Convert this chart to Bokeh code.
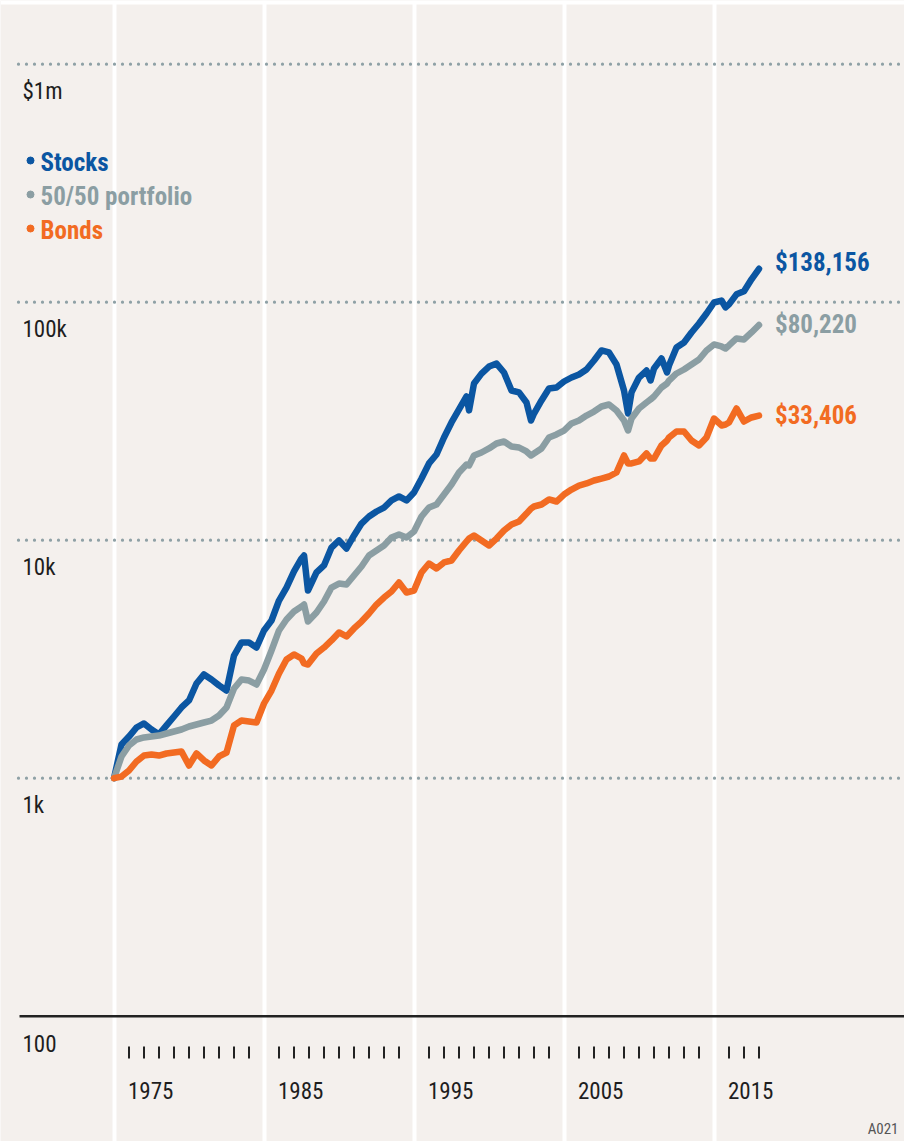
from bokeh.plotting import figure
from bokeh.models import Range1d, Grid, FixedTicker, LinearScale
from bokeh.embed import file_html
from bokeh.resources import INLINE
from bokeh.core.properties import value

# ---------------- data ----------------
years = [1975.0, 1975.5, 1976.0, 1976.5, 1977.0, 1977.5, 1978.0, 1978.5, 1979.0, 1979.5,
         1980.0, 1980.5, 1981.0, 1981.5, 1982.0, 1982.5, 1983.0, 1983.5, 1984.0, 1984.5,
         1985.0, 1985.5, 1986.0, 1986.5, 1987.0, 1987.5, 1987.67, 1987.93, 1988.5, 1989.0,
         1989.5, 1990.0, 1990.5, 1991.0, 1991.5, 1992.0, 1992.5, 1993.0, 1993.5, 1994.0,
         1994.5, 1995.0, 1995.5, 1996.0, 1996.5, 1997.0, 1997.5, 1998.0, 1998.5, 1998.67,
         1999.0, 1999.5, 2000.0, 2000.5, 2001.0, 2001.5, 2002.0, 2002.5, 2002.8, 2003.0,
         2003.5, 2004.0, 2004.5, 2005.0, 2005.5, 2006.0, 2006.5, 2007.0, 2007.5, 2008.0,
         2008.5, 2009.0, 2009.27, 2009.5, 2010.0, 2010.5, 2010.77, 2011.0, 2011.5, 2011.87,
         2012.0, 2012.5, 2013.0, 2013.5, 2014.0, 2014.5, 2015.0, 2015.5, 2015.77, 2016.0,
         2016.5, 2017.0, 2017.5, 2018.0]

stocks = [1000, 1385, 1496, 1633, 1698, 1603, 1527, 1666, 1817, 1982,
          2121, 2500, 2729, 2600, 2454, 2336, 3277, 3717, 3717, 3541,
          4175, 4599, 5580, 6327, 7389, 8378, 8626, 6146, 7318, 7834,
          9318, 9972, 9228, 10470, 11750, 12577, 13200, 13720, 14686, 15265,
          14686, 15868, 18160, 21010, 22910, 27020, 31230, 35420, 40180, 35100,
          45540, 50120, 53660, 55200, 50660, 42560, 41780, 37900, 31840, 34050,
          38640, 43390, 43810, 46430, 48260, 49690, 52150, 56890, 62680, 61480,
          54720, 42560, 34050, 41780, 48260, 51640, 46880, 52650, 57990, 50660,
          54200, 64520, 67710, 74610, 81390, 89660, 99700, 101640, 95070, 97950,
          107900, 111120, 124840, 138156]

balanced = [1000, 1234, 1372, 1454, 1483, 1497, 1511, 1541, 1571, 1602,
            1649, 1681, 1714, 1747, 1834, 1982, 2382, 2598, 2573, 2476,
            2861, 3440, 4175, 4643, 5017, 5265, 5368, 4554, 4968, 5526,
            6327, 6577, 6514, 7107, 7754, 8626, 9051, 9500, 10264, 10566,
            10264, 10877, 12577, 13720, 14125, 15560, 17140, 19250, 20800, 20600,
            22700, 23360, 24290, 25490, 25980, 24760, 24520, 23590, 22700, 23140,
            24290, 27010, 27810, 28900, 30930, 31840, 33410, 34730, 36460, 37170,
            35080, 31840, 28900, 32460, 35760, 37900, 39020, 40170, 43810, 45540,
            46880, 50170, 52150, 54720, 57430, 62680, 66430, 65160, 63910, 65790,
            70390, 69710, 74610, 80220]

bonds = [1000, 1016, 1077, 1175, 1245, 1258, 1245, 1270, 1282, 1295,
         1131, 1270, 1187, 1131, 1234, 1282, 1665, 1747, 1730, 1714,
         2060, 2336, 2754, 3153, 3310, 3184, 3034, 3004, 3342, 3541,
         3790, 4095, 3940, 4256, 4554, 4920, 5368, 5743, 6086, 6643,
         6029, 6146, 7318, 7980, 7603, 8061, 8218, 9051, 9874, 10164,
         10464, 9970, 9500, 10164, 10982, 11641, 11983, 12940, 13580, 13855,
         14125, 14830, 14540, 15560, 16330, 16970, 17310, 17815, 18160, 18520,
         19250, 22700, 21010, 21010, 21420, 23140, 22040, 22040, 25000, 26240,
         27010, 28620, 28620, 26240, 25000, 27010, 32460, 30340, 30630, 31230,
         35760, 31530, 32780, 33406]

series_names = ["Stocks", "50/50 portfolio", "Bonds"]
end_labels = ["$138,156", "$80,220", "$33,406"]
y_tick_values = [1e6, 1e5, 1e4, 1e3]
y_tick_labels = ["$1m", "100k", "10k", "1k"]
base_value = 100
base_label = "100"
decade_labels = ["1975", "1985", "1995", "2005", "2015"]
decade_lines = [1975, 1985, 1995, 2005, 2015]
year_ticks = [y for y in range(1976, 2019) if y % 10 != 5]
footnote = "A021"

# ---------------- styles / layout ----------------
BG = "#f4f0ed"
COLORS = ["#0b56a2", "#8b9ea3", "#f26b22"]
TXT = "#1e1e1e"
FONT = "'Liberation Sans Narrow', 'Roboto Condensed', Roboto, sans-serif"

W, H = 904, 1141
PX_YEAR = 15.0
X1975 = 113.5            # px of the 1975 line
DEC = 238.0              # px per decade on the log axis
Y1K = 777.7              # px from top of the 1k line
XMIN = 1975 - X1975 / PX_YEAR
XMAX = XMIN + W / PX_YEAR
YMAX = 10 ** (3 + Y1K / DEC)
YMIN = 10 ** (3 - (H - Y1K) / DEC)


def py(y_from_top):
    return H - y_from_top


p = figure(width=W, height=H, x_range=Range1d(XMIN, XMAX), y_range=Range1d(YMIN, YMAX),
           y_axis_type="log", x_axis_location=None, y_axis_location=None,
           min_border=0, outline_line_color=None, background_fill_color=BG,
           border_fill_color=BG, output_backend="svg", toolbar_location=None)
p.extra_x_ranges = {"px": Range1d(0, W)}
p.extra_y_ranges = {"py": Range1d(0, H)}
p.extra_x_scales = {"px": LinearScale()}
p.extra_y_scales = {"py": LinearScale()}
p.grid.visible = False

vg = Grid(dimension=0, ticker=FixedTicker(ticks=decade_lines),
          grid_line_color="white", grid_line_width=4)
p.add_layout(vg)

# white strip along the top edge
p.quad(left=[0], right=[W], bottom=[py(4)], top=[py(0)], fill_color="white",
       line_color=None, x_range_name="px", y_range_name="py")

# dotted horizontal gridlines
gx0 = XMIN + 18 / PX_YEAR
p.segment(x0=[gx0] * len(y_tick_values), x1=[XMAX] * len(y_tick_values),
          y0=y_tick_values, y1=y_tick_values, line_color="#8fa1a6",
          line_width=3.2, line_dash="0 8", line_cap="round")
# base line at 100
p.segment(x0=[XMIN + 19 / PX_YEAR], x1=[XMAX], y0=[base_value], y1=[base_value],
          line_color="#222222", line_width=2.5)

# y labels
p.text(x=[22] * 5, y=y_tick_values + [base_value], text=y_tick_labels + [base_label],
       x_range_name="px", text_font=value(FONT), text_font_size="23px",
       text_color=TXT, text_baseline="middle", y_offset=27)

# data lines
for vals, col in zip([stocks, balanced, bonds], COLORS):
    p.line(years, vals, line_color=col, line_width=6.5, line_join="round", line_cap="round")

# end labels
END_DY = [-6, 0, 0]
p.text(x=[years[-1]] * 3, y=[stocks[-1], balanced[-1], bonds[-1]], text=end_labels,
       text_color=COLORS, text_font=value(FONT), text_font_style="bold",
       text_font_size="25px", text_baseline="middle", x_offset=16, y_offset=END_DY)

# legend
leg_mid = [162, 196, 230]
p.scatter(x=[30] * 3, y=[py(m - 2) for m in leg_mid], size=7, color=COLORS,
          x_range_name="px", y_range_name="py")
p.text(x=[40] * 3, y=[py(m) for m in leg_mid], text=series_names, text_color=COLORS,
       text_font=value(FONT), text_font_style="bold", text_font_size="25px",
       text_baseline="middle", x_range_name="px", y_range_name="py")

# year ticks and labels
p.segment(x0=year_ticks, x1=year_ticks, y0=[py(1046)] * len(year_ticks),
          y1=[py(1058)] * len(year_ticks), line_color="#222222", line_width=2,
          y_range_name="py")
p.text(x=[int(d) + 1 for d in decade_labels], y=[py(1089.5)] * len(decade_labels),
       text=decade_labels, text_font=value(FONT), text_font_size="23px", text_color=TXT,
       text_baseline="middle", x_offset=-1, y_range_name="py")

# footnote
p.text(x=[898], y=[py(1128)], text=[footnote], text_font=value(FONT),
       text_font_size="15px", text_color="#555555", text_align="right",
       text_baseline="middle", x_range_name="px", y_range_name="py")

open("out.html", "w").write(file_html(p, INLINE))
